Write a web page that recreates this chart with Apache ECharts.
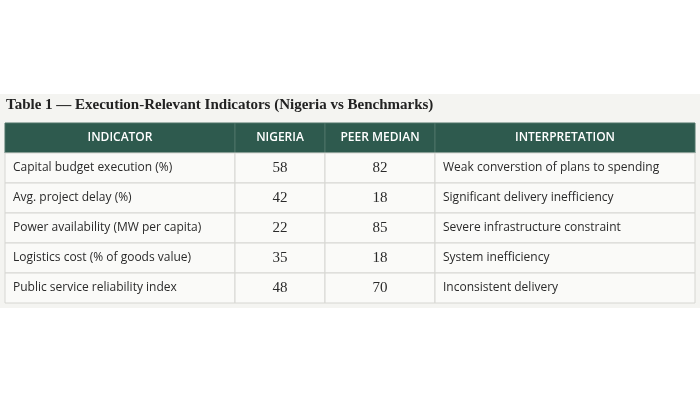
<!DOCTYPE html>
<html><head><meta charset="utf-8">
<script src="https://cdn.jsdelivr.net/npm/echarts@6/dist/echarts.min.js"></script>
<style>html,body{margin:0;padding:0;background:#fff}#c{width:700px;height:400px}</style>
</head><body><div id="c"></div>
<script>
const headers = ['INDICATOR','NIGERIA','PEER MEDIAN','INTERPRETATION'];
const indicators = ['Capital budget execution (%)','Avg. project delay (%)','Power availability (MW per capita)','Logistics cost (% of goods value)','Public service reliability index'];
const nigeria = [58,42,22,35,48];
const peerMedian = [82,18,85,18,70];
const interpretation = ['Weak converstion of plans to spending','Significant delivery inefficiency','Severe infrastructure constraint','System inefficiency','Inconsistent delivery'];

const colEdges = [0,230,320,430,690];
const rowsCat = ['h','r0','r1','r2','r3','r4'];
const cells = [];
headers.forEach((h,c)=>cells.push([c,0,h]));
indicators.forEach((t,r)=>{
  cells.push([0,r+1,t]);cells.push([1,r+1,String(nigeria[r])]);
  cells.push([2,r+1,String(peerMedian[r])]);cells.push([3,r+1,interpretation[r]]);
});
const chart = echarts.init(document.getElementById('c'));
chart.setOption({
  animation:false,
  graphic:[
    {type:'rect',shape:{x:0,y:94,width:700,height:214},style:{fill:'#f4f4f1'},z:-10},
    {type:'text',left:6,top:98,style:{text:'Table 1 — Execution-Relevant Indicators (Nigeria vs Benchmarks)',font:'bold 15px "Liberation Serif", serif',fill:'#222'}}
  ],
  grid:{left:5,right:5,top:123,height:180},
  xAxis:{type:'value',min:0,max:690,show:false},
  yAxis:{type:'category',data:rowsCat,inverse:true,show:false},
  series:[{
    type:'custom',data:cells,
    renderItem:function(params,api){
      const c=api.value(0), r=api.value(1), txt=cells[params.dataIndex][2];
      const p0=api.coord([colEdges[c],r]), p1=api.coord([colEdges[c+1],r]);
      const bw=api.size([0,1])[1];
      const y0=p0[1]-bw/2;
      const head=r===0;
      const center=c===1||c===2||head;
      const num=!head&&(c===1||c===2);
      return {type:'group',children:[
        {type:'rect',shape:{x:p0[0],y:y0,width:p1[0]-p0[0],height:bw},
         style:{fill:head?'#2e5a4e':'#fafaf8',stroke:head?'#4d7266':'#d6d6d2',lineWidth:1}},
        {type:'text',style:{text:txt,x:center?(p0[0]+p1[0])/2:p0[0]+8,y:y0+bw/2,
          align:center?'center':'left',verticalAlign:'middle',
          fill:head?'#fff':'#2a2a2a',
          font:head?'600 12px "Open Sans", sans-serif':(num?'15px "Liberation Serif", serif':'12px "Open Sans", sans-serif')}}
      ]};
    }
  }]
});
</script></body></html>
